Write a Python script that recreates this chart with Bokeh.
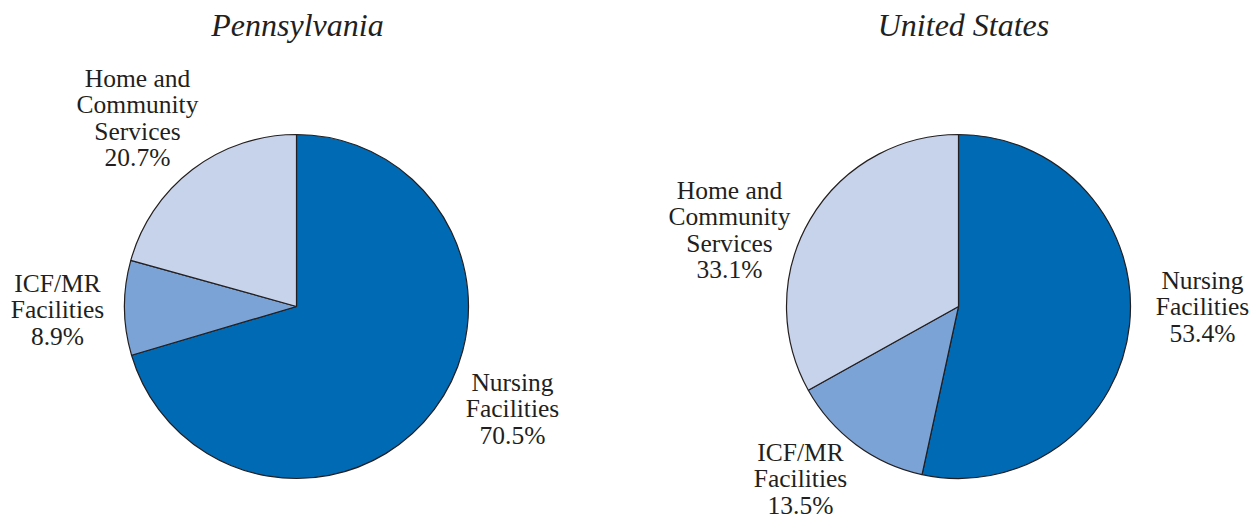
import math
from bokeh.plotting import figure
from bokeh.models import Range1d
from bokeh.core.properties import value
from bokeh.embed import file_html
from bokeh.resources import INLINE

# ---- data ----
categories = ["Nursing Facilities", "ICF/MR Facilities", "Home and Community Services"]
label_lines = [["Nursing", "Facilities"], ["ICF/MR", "Facilities"], ["Home and", "Community", "Services"]]
pa_values = [70.5, 8.9, 20.7]
us_values = [53.4, 13.5, 33.1]
titles = ["Pennsylvania", "United States"]
colors = ["#006AB5", "#7CA3D5", "#C7D3EA"]

W, H = 1256, 522
FONT = "'Liberation Serif', 'Times New Roman', Times, serif"

p = figure(width=W, height=H, output_backend="svg", toolbar_location=None,
           x_range=Range1d(0, W), y_range=Range1d(0, H), min_border=0)
p.axis.visible = False
p.grid.visible = False
p.outline_line_color = None
p.background_fill_color = "white"


def Y(py):
    return H - py


def X(px):
    return px


# layout: (center x, center y, radius) in page pixels, label anchor positions
pies = [
    dict(cx=296, cy=306, r=172, values=pa_values, title_x=297,
         label_pos=[(512, 382), (57, 283), (137, 78)]),
    dict(cx=958, cy=306, r=172, values=us_values, title_x=963,
         label_pos=[(1202, 280), (800, 452), (729, 190)]),
]

LINE = 26.4
for pie, title in zip(pies, titles):
    cx, cy, r = X(pie["cx"]), Y(pie["cy"]), pie["r"]
    start = math.pi / 2
    starts, ends = [], []
    for v in pie["values"]:
        ang = v / sum(pie["values"]) * 2 * math.pi
        starts.append(start)
        ends.append(start - ang)
        start -= ang
    p.wedge(x=[cx] * 3, y=[cy] * 3, radius=r, start_angle=starts, end_angle=ends,
            direction="clock", fill_color=colors, line_color="#231f20", line_width=1.2)
    p.text(x=[X(pie["title_x"])], y=[Y(24)], text=[title], text_font=value(FONT),
           text_font_style="italic", text_font_size="32px", text_align="center",
           text_baseline="middle", text_color="#231f20")
    for lines, v, (lx, ly) in zip(label_lines, pie["values"], pie["label_pos"]):
        all_lines = lines + [f"{v:.1f}%"]
        xs = [X(lx)] * len(all_lines)
        ys = [Y(ly + i * LINE) for i in range(len(all_lines))]
        p.text(x=xs, y=ys, text=all_lines, text_font=value(FONT), text_font_size="25.5px",
               text_align="center", text_baseline="middle", text_color="#231f20")

open("out.html", "w").write(file_html(p, INLINE))
